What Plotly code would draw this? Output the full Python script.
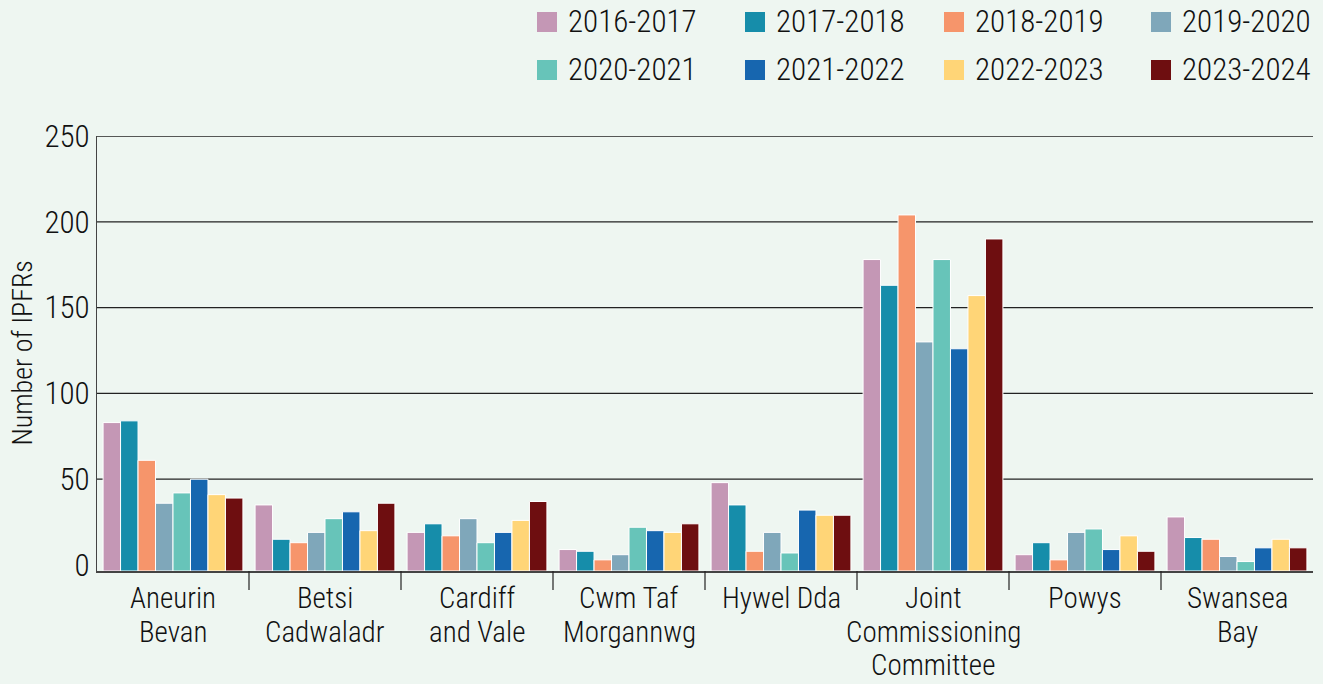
import plotly.graph_objects as go

categories = [
    "Aneurin<br>Bevan",
    "Betsi<br>Cadwaladr",
    "Cardiff<br>and Vale",
    "Cwm Taf<br>Morgannwg",
    "Hywel Dda",
    "Joint<br>Commissioning<br>Committee",
    "Powys",
    "Swansea<br>Bay",
]

years = ["2016-2017", "2017-2018", "2018-2019", "2019-2020",
         "2020-2021", "2021-2022", "2022-2023", "2023-2024"]

v_2016_17 = [83, 35, 19, 9, 48, 178, 6, 28]
v_2017_18 = [84, 15, 24, 8, 35, 163, 13, 16]
v_2018_19 = [61, 13, 17, 3, 8, 204, 3, 15]
v_2019_20 = [36, 19, 27, 6, 19, 130, 19, 5]
v_2020_21 = [42, 27, 13, 22, 7, 178, 21, 2]
v_2021_22 = [50, 31, 19, 20, 32, 126, 9, 10]
v_2022_23 = [41, 20, 26, 19, 29, 157, 17, 15]
v_2023_24 = [39, 36, 37, 24, 29, 190, 8, 10]

series = [v_2016_17, v_2017_18, v_2018_19, v_2019_20,
          v_2020_21, v_2021_22, v_2022_23, v_2023_24]

colors = ["#C497B5", "#168DAA", "#F6956B", "#7FA7BA",
          "#67C4B9", "#1766AF", "#FFD577", "#6E0E10"]

y_ticks = [0, 50, 100, 150, 200, 250]

FONT = "Roboto Condensed, Liberation Sans Narrow, sans-serif"
WEIGHT = 300
INK = "#111111"
BG = "#EEF6F1"
W, H = 1323, 684
L, R, T, B = 97, 10, 136, 113
Y_MIN = -3.5  # axis line sits a little below zero, bars start from it


def px_x(px):
    return (px - L) / (W - L - R)


def px_y(py):
    return (H - B - py) / (H - T - B)


fig = go.Figure()
for name, vals, col in zip(years, series, colors):
    fig.add_trace(go.Bar(
        x=categories,
        y=[v - Y_MIN for v in vals],
        base=Y_MIN,
        customdata=vals,
        hovertemplate="%{customdata}<extra>" + name + "</extra>",
        name=name,
        marker=dict(color=col, line=dict(color="white", width=1)),
        showlegend=False,
    ))

# gridlines behind bars (no line at 0)
for v in y_ticks[1:]:
    fig.add_hline(y=v, line=dict(color="#222222", width=1.3), layer="below")

# category separators below the axis
for i in range(len(categories) - 1):
    fig.add_shape(type="line", xref="x", yref="paper",
                  x0=i + 0.5, x1=i + 0.5, y0=0, y1=px_y(590),
                  line=dict(color="#222222", width=1.2))

# category labels, one annotation per line for tighter spacing
for cat in categories:
    for j, line in enumerate(cat.split("<br>")):
        fig.add_annotation(x=cat, xref="x", yref="paper", y=px_y(598 + 33.5 * j),
                           text=line, showarrow=False, xanchor="center",
                           yanchor="middle",
                           font=dict(size=29, color=INK, weight=WEIGHT))

# legend: 4 columns x 2 rows
sw_left = [537, 745, 944, 1151]
row_y = [22, 70]
for k, (name, col) in enumerate(zip(years, colors)):
    cx = sw_left[k % 4]
    cy = row_y[k // 4]
    fig.add_shape(type="rect", xref="paper", yref="paper",
                  x0=px_x(cx), x1=px_x(cx + 20), y0=px_y(cy - 10), y1=px_y(cy + 10),
                  fillcolor=col, line=dict(width=0))
    fig.add_annotation(x=px_x(cx + 29), y=px_y(cy), xref="paper", yref="paper",
                       text=name, showarrow=False, xanchor="left", yanchor="middle",
                       font=dict(size=31, color=INK, weight=WEIGHT))

fig.add_annotation(x=px_x(22), y=0.5, xref="paper", yref="paper",
                   text="Number of IPFRs", textangle=-90, showarrow=False,
                   xanchor="center", yanchor="middle",
                   font=dict(size=28, color=INK, weight=WEIGHT))

fig.update_layout(
    width=W,
    height=H,
    margin=dict(l=L, r=R, t=T, b=B),
    paper_bgcolor=BG,
    plot_bgcolor=BG,
    barmode="group",
    bargap=0.08,
    bargroupgap=0,
    font=dict(family=FONT, color=INK, weight=WEIGHT),
    xaxis=dict(showticklabels=False, showgrid=False, ticks="",
               showline=True, linecolor="#444444", linewidth=1.8),
    yaxis=dict(range=[Y_MIN, 250], tickvals=y_ticks, showgrid=False,
               zeroline=False, showline=True, linecolor="#444444", linewidth=1.3,
               ticks="", ticklabelstandoff=0,
               tickfont=dict(size=31, color=INK, weight=WEIGHT)),
)

fig.write_html("out.html", config={"displayModeBar": False},
               post_script="document.body.style.margin='0';")
